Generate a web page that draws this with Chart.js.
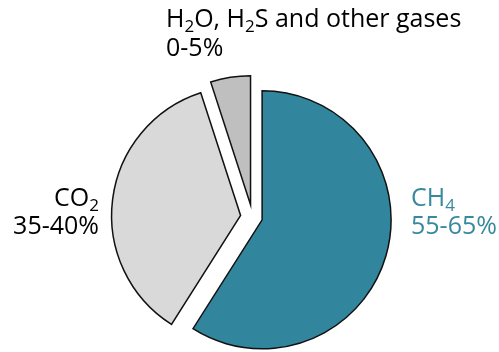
<!DOCTYPE html>
<html>
<head>
<meta charset="utf-8">
<title>Biogas composition</title>
<script src="https://cdn.jsdelivr.net/npm/chart.js@4/dist/chart.umd.min.js"></script>
<style>
  html, body { margin: 0; padding: 0; background: #ffffff; }
  #wrap { width: 499px; height: 352px; }
</style>
</head>
<body>
<div id="wrap"><canvas id="chart" width="499" height="352"></canvas></div>
<script>
// Gas names (Unicode subscript digits are drawn as real subscripts)
const categories = ['CH₄', 'CO₂', 'H₂O, H₂S and other gases'];
// Share of each gas used to size the slices (percent)
const shares = [59, 36, 5];
// Range printed under each gas name
const rangeLabels = ['55-65%', '35-40%', '0-5%'];

const fillColors = ['#31859C', '#D9D9D9', '#BFBFBF'];
const textColors = ['#38899E', '#000000', '#000000'];
// How far each slice is pulled out from the centre, in pixels
const explodeBy = [10, 12, 12.5];
const FONT_FAMILY = '"Open Sans", "Noto Sans", sans-serif';
const FONT_SIZE = 25;

const SUB_DIGITS = '₀₁₂₃₄₅₆₇₈₉';

// Split a string into normal / subscript runs
function splitRuns(text) {
  const runs = [];
  for (const ch of text) {
    const idx = SUB_DIGITS.indexOf(ch);
    const sub = idx >= 0;
    const c = sub ? String(idx) : ch;
    if (runs.length && runs[runs.length - 1].sub === sub) runs[runs.length - 1].text += c;
    else runs.push({ text: c, sub });
  }
  return runs;
}

function drawRich(ctx, text, x, y, align, color) {
  const runs = splitRuns(text);
  const mainFont = FONT_SIZE + 'px ' + FONT_FAMILY;
  const subFont = Math.round(FONT_SIZE * 0.68) + 'px ' + FONT_FAMILY;
  let total = 0;
  for (const r of runs) {
    ctx.font = r.sub ? subFont : mainFont;
    r.w = ctx.measureText(r.text).width;
    total += r.w;
  }
  let cx = align === 'right' ? x - total : x;
  ctx.fillStyle = color;
  ctx.textAlign = 'left';
  ctx.textBaseline = 'alphabetic';
  for (const r of runs) {
    ctx.font = r.sub ? subFont : mainFont;
    ctx.fillText(r.text, cx, r.sub ? y + Math.round(FONT_SIZE * 0.2) : y);
    cx += r.w;
  }
}

// Pulls every slice outwards along its own mid-angle
const explodeSlices = {
  id: 'explodeSlices',
  afterDatasetUpdate(chart, args) {
    args.meta.data.forEach((arc, i) => {
      const mid = (arc.startAngle + arc.endAngle) / 2;
      const d = explodeBy[i] || 0;
      arc.x += Math.cos(mid) * d;
      arc.y += Math.sin(mid) * d;
    });
  }
};

// Places the two-line name / range labels around the pie
const sliceLabels = {
  id: 'sliceLabels',
  afterDraw(chart) {
    const ctx = chart.ctx;
    const area = chart.chartArea;
    const cx = (area.left + area.right) / 2;
    const cy = (area.top + area.bottom) / 2;
    const spots = [
      { x: cx + 158.5, y: cy - 11, gap: 28, align: 'left' },
      { x: cx - 153.5, y: cy - 11, gap: 27.5, align: 'right' },
      { x: cx - 86.5, y: cy - 190, gap: 29, align: 'left' }
    ];
    ctx.save();
    categories.forEach((name, i) => {
      const s = spots[i];
      drawRich(ctx, name, s.x, s.y, s.align, textColors[i]);
      drawRich(ctx, rangeLabels[i], s.x, s.y + s.gap, s.align, textColors[i]);
    });
    ctx.restore();
  }
};

new Chart(document.getElementById('chart'), {
  type: 'pie',
  data: {
    labels: categories,
    datasets: [{
      data: shares,
      backgroundColor: fillColors,
      borderColor: '#111111',
      borderWidth: 1.5,
      borderJoinStyle: 'miter'
    }]
  },
  options: {
    responsive: false,
    animation: false,
    radius: 129,
    layout: { padding: { left: 6, right: 0, top: 82, bottom: 0 } },
    plugins: {
      legend: { display: false },
      tooltip: { enabled: false }
    }
  },
  plugins: [explodeSlices, sliceLabels]
});
</script>
</body>
</html>
